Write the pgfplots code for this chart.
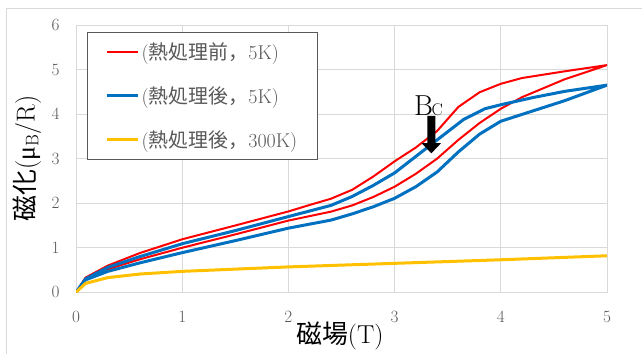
\documentclass[border=0pt]{standalone}
\usepackage{fontspec}
\usepackage{pgfplots}
\pgfplotsset{compat=1.18}
\newfontfamily\jp{Noto Sans CJK JP}
\newfontfamily\lib{Liberation Serif}
\definecolor{gridc}{HTML}{D9D9D9}
\definecolor{txt}{HTML}{595959}
\definecolor{cred}{HTML}{FF0000}
\definecolor{cblue}{HTML}{0070C0}
\definecolor{cyel}{HTML}{FFC000}
\begin{document}
\begin{tikzpicture}
\useasboundingbox (0,0) rectangle (642bp,354bp);
\draw[gridc, line width=0.75bp] (6bp,0) -- (6bp,346bp) -- (642bp,346bp);
\begin{axis}[
 at={(76bp,61.7bp)}, anchor=south west,
 scale only axis, width=531bp, height=267.3bp,
 xmin=0, xmax=5, ymin=0, ymax=6,
 xtick={0,1,2,3,4,5}, ytick={0,1,2,3,4,5,6},
 grid=major, major grid style={gridc, line width=0.75bp},
 axis line style={gridc, line width=0.75bp},
 tick style={draw=none},
 tick label style={font=\fontsize{19}{19}\selectfont, text=txt},
 xticklabel style={yshift=-16bp},
 yticklabel style={xshift=-13bp},
 xlabel={{\jp 磁場}(T)},
 ylabel={{\jp 磁化}({\lib μ}\textsubscript{B}/R)},
 xlabel style={at={(axis description cs:0.497,-0.165)}, anchor=center, font=\fontsize{26}{26}\selectfont},
 ylabel style={at={(axis description cs:-0.0923,0.5)}, anchor=center, font=\fontsize{26}{26}\selectfont},
 legend style={at={(axis description cs:0.0213,0.975)}, anchor=north west, draw=txt, line width=0.75bp, fill=white,
   font=\fontsize{20}{20}\selectfont, text=txt, inner xsep=18bp, inner ysep=9bp, row sep=21.5bp},
 legend cell align=left,
 legend image code/.code={\draw[#1] (0bp,0bp) -- (31bp,0bp);},
]
\addplot[cred, line width=2bp, line join=round] coordinates {
(0,0)(0.09,0.31)(0.3,0.52)(0.6,0.74)(1,1.0)(1.5,1.3)(2,1.61)(2.4,1.81)(2.6,1.95)(2.8,2.14)(3,2.37)(3.2,2.66)(3.4,3.0)(3.6,3.42)(3.8,3.8)(4.0,4.12)(4.2,4.38)(4.6,4.78)(5,5.1)
(4.6,4.96)(4.2,4.81)(4.0,4.68)(3.8,4.49)(3.6,4.16)(3.4,3.62)(3.2,3.25)(3.0,2.94)(2.8,2.6)(2.6,2.3)(2.4,2.1)(2.2,1.96)(2,1.815)(1.5,1.5)(1,1.19)(0.6,0.88)(0.3,0.6)(0.09,0.33)(0,0)};
\addlegendentry{\makebox[151bp][l]{({\jp 熱処理前，}5K)}}
\addplot[cblue, line width=3bp, line join=round] coordinates {
(0,0)(0.09,0.28)(0.3,0.47)(0.6,0.66)(1,0.89)(1.5,1.16)(2,1.44)(2.4,1.62)(2.6,1.76)(2.8,1.92)(3,2.11)(3.2,2.37)(3.4,2.7)(3.6,3.15)(3.8,3.55)(4,3.84)(4.3,4.07)(4.6,4.3)(5,4.65)
(4.6,4.51)(4.3,4.37)(4,4.21)(3.85,4.12)(3.65,3.88)(3.4,3.42)(3.2,3.05)(3,2.68)(2.8,2.4)(2.6,2.15)(2.4,1.95)(2,1.70)(1.5,1.385)(1,1.09)(0.6,0.8)(0.3,0.56)(0.09,0.3)(0,0)};
\addlegendentry{({\jp 熱処理後，}5K)}
\addplot[cyel, line width=3bp, line join=round] coordinates {
(0,0)(0.09,0.2)(0.3,0.33)(0.6,0.41)(1,0.47)(1.5,0.52)(2,0.57)(3,0.65)(4,0.73)(5,0.82)};
\addlegendentry{({\jp 熱処理後，}300K)}
\fill[black] (axis cs:3.3084,3.96) -- (axis cs:3.3836,3.96) -- (axis cs:3.3836,3.35) -- (axis cs:3.438,3.35)
  -- (axis cs:3.346,3.12) -- (axis cs:3.254,3.35) -- (axis cs:3.3084,3.35) -- cycle;
\node[anchor=base west, inner sep=0pt] at (axis cs:3.183,3.96) {{\fontsize{29}{29}\selectfont B}\kern-1.5bp{\fontsize{17}{17}\selectfont C}};
\end{axis}
\end{tikzpicture}
\end{document}
